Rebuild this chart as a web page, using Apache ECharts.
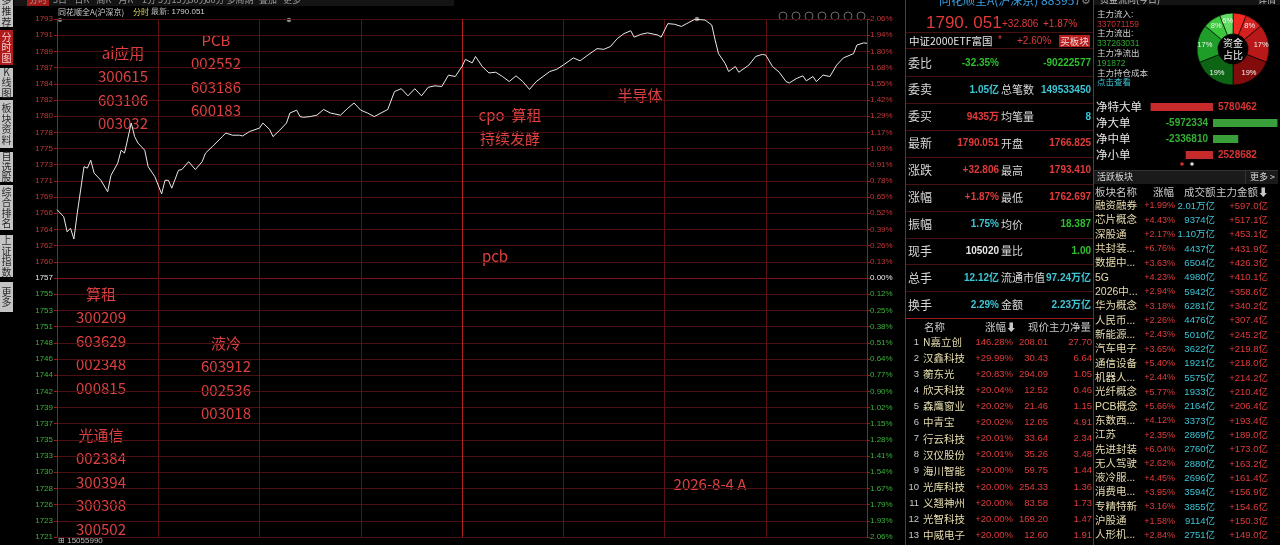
<!DOCTYPE html>
<html>
<head>
<meta charset="UTF-8">
<title>同花顺全A 分时</title>
<script src="https://cdn.jsdelivr.net/npm/echarts@6.0.0/dist/echarts.min.js"></script>
<style>
  html, body { margin: 0; padding: 0; background: #000; }
  #main { width: 1280px; height: 545px; }
</style>
</head>
<body>
<div id="main"></div>
<script type="text/javascript">

// ---- 分时数据 ----
var PRE_CLOSE = 1757.245;
var AXIS_TOP = 1793.44;
var STEPS = 16;

var minutes = [0, 2, 3, 4, 5, 6, 8, 9, 10, 11, 13, 15, 16, 18, 19, 20, 22, 23, 24, 26, 27, 29, 31, 32, 33, 34, 36, 37, 39, 41,
  43, 44, 46, 49, 50, 52, 54, 55, 57, 60, 61, 63, 64, 66, 68, 69, 71, 72, 73, 75, 77, 79, 81, 84, 86, 88, 90, 92, 94, 96,
  98, 100, 102, 104, 106, 108, 110, 112, 114, 116, 118, 120, 121, 123, 124, 126, 128, 130, 132, 134, 136, 138, 140, 142, 144, 146,
  148, 150, 153, 155, 157, 160, 162, 164, 166, 168, 170, 171, 173, 175, 178, 179, 181, 183, 185, 187, 189, 192, 194, 195, 196,
  198, 199, 201, 202, 205, 207, 209, 210, 212, 214, 216, 217, 219, 221, 222, 224, 225, 227, 229, 231, 233, 236, 237, 239, 240];
var prices = [1766.8, 1765.8, 1763.7, 1764.2, 1762.7, 1766.3, 1772.8, 1772.6, 1773.7, 1771.9, 1770.9, 1769.3, 1771.6, 1773.3, 1775.1, 1774.7, 1778.9, 1777.0, 1776.1, 1775.1, 1772.8, 1771.4, 1769.0, 1770.9, 1770.9, 1769.8, 1772.3, 1772.4, 1773.5, 1772.4,
  1773.5, 1774.7, 1775.6, 1777.0, 1777.5, 1777.2, 1777.2, 1777.1, 1777.7, 1778.2, 1778.9, 1778.0, 1777.0, 1777.9, 1778.9, 1780.3, 1780.7, 1779.8, 1779.7, 1779.8, 1780.0, 1780.8, 1780.3, 1780.0, 1780.9, 1781.7, 1780.7, 1780.3, 1779.8, 1780.3,
  1780.8, 1783.3, 1783.7, 1782.7, 1783.7, 1782.7, 1783.9, 1784.1, 1784.0, 1785.6, 1785.4, 1786.8, 1787.8, 1787.3, 1788.2, 1786.8, 1785.9, 1786.0, 1785.4, 1784.7, 1785.5, 1784.7, 1783.6, 1784.7, 1785.4, 1786.1,
  1786.4, 1787.0, 1788.0, 1787.6, 1788.3, 1789.3, 1789.2, 1789.6, 1790.7, 1791.4, 1791.8, 1790.9, 1791.3, 1791.5, 1791.2, 1790.9, 1792.8, 1792.7, 1792.4, 1792.9, 1793.4, 1793.3, 1792.6, 1790.5, 1788.6,
  1787.2, 1786.1, 1786.8, 1786.0, 1787.0, 1788.2, 1788.5, 1788.4, 1786.8, 1786.0, 1784.7, 1784.5, 1785.1, 1785.5, 1784.8, 1785.4, 1784.7, 1785.6, 1785.4, 1787.0, 1788.0, 1788.6, 1789.8, 1790.1, 1790.05];

// 纵轴刻度 (从上到下)
var priceTicks = ['1793', '1791', '1789', '1787', '1784', '1782', '1780', '1778', '1775', '1773', '1771', '1769', '1766', '1764', '1762', '1760',
  '1757', '1755', '1753', '1751', '1748', '1746', '1744', '1742', '1739', '1737', '1735', '1733', '1730', '1728', '1726', '1723', '1721'];
var pctTicks = ['2.06%', '1.94%', '1.80%', '1.68%', '1.55%', '1.42%', '1.29%', '1.17%', '1.03%', '0.91%', '0.78%', '0.65%', '0.52%', '0.39%', '0.26%', '0.13%',
  '0.00%', '0.12%', '0.25%', '0.38%', '0.51%', '0.64%', '0.77%', '0.90%', '1.02%', '1.15%', '1.28%', '1.41%', '1.54%', '1.67%', '1.79%', '1.93%', '2.06%'];

// 资金占比 (顺时针, 从12点开始)
var shareNames = ['特大单流入', '大单流入', '中单流入', '小单流入', '小单流出', '中单流出', '大单流出', '特大单流出'];
var shareValues = [6, 8, 17, 19, 19, 17, 8, 6];

// 净额
var flowNames = ['净特大单', '净大单', '净中单', '净小单'];
var flowValues = [5780462, -5972334, -2336810, 2528682];

// 盘口
var quoteKeys1 = ['委比', '委卖', '委买', '最新', '涨跌', '涨幅', '振幅', '现手', '总手', '换手'];
var quoteVals1 = ['-32.35%', '1.05亿', '9435万', '1790.051', '+32.806', '+1.87%', '1.75%', '105020', '12.12亿', '2.29%'];
var quoteKeys2 = ['', '总笔数', '均笔量', '开盘', '最高', '最低', '均价', '量比', '流通市值', '金额'];
var quoteVals2 = ['-90222577', '149533450', '8', '1766.825', '1793.410', '1762.697', '18.387', '1.00', '97.24万亿', '2.23万亿'];

// 涨幅榜
var stockNames = ['N嘉立创', '汉鑫科技', '蘅东光', '欣天科技', '森鹰窗业', '中青宝', '行云科技', '汉仪股份', '海川智能', '光库科技', '义翘神州', '光智科技', '中威电子'];
var stockChg = ['146.28%', '+29.99%', '+20.83%', '+20.04%', '+20.02%', '+20.02%', '+20.01%', '+20.01%', '+20.00%', '+20.00%', '+20.00%', '+20.00%', '+20.00%'];
var stockPrice = ['208.01', '30.43', '294.09', '12.52', '21.46', '12.05', '33.64', '35.26', '59.75', '254.33', '83.58', '169.20', '12.60'];
var stockNet = ['27.70', '6.64', '1.05', '0.46', '1.15', '4.91', '2.34', '3.48', '1.44', '1.36', '1.73', '1.47', '1.91'];

// 活跃板块
var sectorNames = ['融资融券', '芯片概念', '深股通', '共封装...', '数据中...', '5G', '2026中...', '华为概念', '人民币...', '新能源...', '汽车电子', '通信设备',
  '机器人...', '光纤概念', 'PCB概念', '东数西...', '江苏', '先进封装', '无人驾驶', '液冷服...', '消费电...', '专精特新', '沪股通', '人形机...'];
var sectorChg = ['+1.99%', '+4.43%', '+2.17%', '+6.76%', '+3.63%', '+4.23%', '+2.94%', '+3.18%', '+2.26%', '+2.43%', '+3.65%', '+5.40%',
  '+2.44%', '+5.77%', '+5.66%', '+4.12%', '+2.35%', '+6.04%', '+2.62%', '+4.45%', '+3.95%', '+3.16%', '+1.58%', '+2.84%'];
var sectorAmount = ['2.01万亿', '9374亿', '1.10万亿', '4437亿', '6504亿', '4980亿', '5942亿', '6281亿', '4476亿', '5010亿', '3622亿', '1921亿',
  '5575亿', '1933亿', '2164亿', '3373亿', '2869亿', '2760亿', '2880亿', '2696亿', '3594亿', '3855亿', '9114亿', '2751亿'];
var sectorMain = ['+597.0亿', '+517.1亿', '+453.1亿', '+431.9亿', '+426.3亿', '+410.1亿', '+358.6亿', '+340.2亿', '+307.4亿', '+245.2亿', '+219.8亿', '+218.0亿',
  '+214.2亿', '+210.4亿', '+206.4亿', '+193.4亿', '+189.0亿', '+173.0亿', '+163.2亿', '+161.4亿', '+156.9亿', '+154.6亿', '+150.3亿', '+149.0亿'];

// ---- 样式 ----
var RED = '#e23b3b', GREEN = '#2fc02f', CYAN = '#3cc6d6', WHITE = '#e6e6e6', CREAM = '#e6dcae', NOTE = '#dc4040';
var GRID_RED = '#4c1010', BORDER = '#9a1c1c';
var CJK = '"Noto Sans CJK SC", sans-serif';
var NUM = '"Liberation Sans", Arial, sans-serif';

var STEP = (AXIS_TOP - PRE_CLOSE) / STEPS;
var lineData = minutes.map(function (m, i) { return [m, (prices[i] - PRE_CLOSE) / STEP]; });

function tickIndex(v) { return STEPS - Math.round(Number(v)); }
function tickColor(v) { var k = Math.round(Number(v)); return k > 0 ? '#c23838' : (k < 0 ? '#3bb33b' : '#e8e8e8'); }

var hSplit = [], vSplit = [];
for (var i = 0; i <= STEPS * 2; i++) hSplit.push(i === STEPS ? '#7a1616' : GRID_RED);
for (var j = 0; j <= 8; j++) vSplit.push(j === 4 ? '#b01e1e' : '#5a1212');

// ---- graphic ----
var g = [];
function T(x, y, text, fill, size, align, family, weight, extra) {
  var el = { type: 'text', x: x, y: y, silent: true,
    style: { text: text, fill: fill, fontSize: size, fontFamily: family || CJK, fontWeight: weight || 'normal',
      align: align || 'left', verticalAlign: 'middle' } };
  if (extra) for (var k in extra) el.style[k] = extra[k];
  g.push(el);
}
function L(x1, y1, x2, y2, color) {
  g.push({ type: 'line', silent: true, shape: { x1: x1, y1: y1, x2: x2, y2: y2 }, style: { stroke: color, lineWidth: 1 } });
}
function R(x, y, w, h, fill) {
  g.push({ type: 'rect', silent: true, shape: { x: x, y: y, width: w, height: h }, style: { fill: fill } });
}

// 左侧竖排标签
var sideTabs = ['推荐', '分时图', 'K线图', '板块资料', '自选股', '综合排名', '上证指数', '更多'];
var sideSpans = [[0, 27], [30, 65], [68, 97], [100, 148], [152, 182], [185, 230], [235, 277], [282, 312]];
sideTabs.forEach(function (t, i) {
  var on = i === 1;
  R(0, sideSpans[i][0], 13, sideSpans[i][1] - sideSpans[i][0], on ? '#b01a1a' : '#c4c4c4');
  T(6.5, (sideSpans[i][0] + sideSpans[i][1]) / 2 + (i === 0 ? 3 : 0), t.split('').join('\n'), on ? '#f4d0d0' : '#2a2a2a', 10, 'center', CJK, 'normal', { lineHeight: 10.5 });
});
T(6.5, 0, '多', '#2a2a2a', 10, 'center');

// 顶部页签(被裁切)
R(14, 0, 440, 6, '#141414');
R(27, 0, 22, 6, '#a01818');
[['分时', 38], ['5日', 60], ['日K', 82], ['周K', 104], ['月K', 126], ['1分', 149], ['5分', 165], ['15分', 181], ['30分', 198], ['60分', 215], ['多周期', 240], ['叠加', 268], ['更多', 292]].forEach(function (t) {
  T(t[1], 0, t[0], '#9a9a9a', 9, 'center');
});
T(58, 12, '同花顺全A(沪深京)', '#cfcfcf', 8, 'left');
T(133, 12, '分时', '#d8d860', 8, 'left');
T(151, 12, '最新: 1790.051', '#cfcfcf', 8, 'left', NUM);

// 图表右上角图标
[783, 796, 809, 822, 835, 848, 861].forEach(function (x) {
  g.push({ type: 'circle', silent: true, shape: { cx: x, cy: 16, r: 4 }, style: { fill: 'none', stroke: '#6a6a6a', lineWidth: 1 } });
});
g.push({ type: 'circle', silent: true, shape: { cx: 60, cy: 20, r: 2 }, style: { fill: '#888' } });
g.push({ type: 'circle', silent: true, shape: { cx: 289, cy: 20, r: 2.2 }, style: { fill: '#888' } });
g.push({ type: 'circle', silent: true, shape: { cx: 697, cy: 19, r: 2.2 }, style: { fill: '#888' } });
T(58, 541, '⊞ 15055990', '#bdbdbd', 8, 'left', NUM);

// 手写标注
var notes = [
  [123, 53, ['ai应用', '300615', '603106', '003032']],
  [216, 40, ['PCB', '002552', '603186', '600183']],
  [510, 115, ['cpo  算租', '持续发酵']],
  [640, 95, ['半导体']],
  [495, 256, ['pcb']],
  [101, 294, ['算租', '300209', '603629', '002348', '000815']],
  [226, 343, ['液冷', '603912', '002536', '003018']],
  [101, 435, ['光通信', '002384', '300394', '300308', '300502']],
  [710, 484, ['2026-8-4 A']]
];
notes.forEach(function (n) {
  n[2].forEach(function (s, k) { T(n[0], n[1] + k * 23.5, s, NOTE, 15, 'center', '"Noto Sans CJK SC", "Noto Sans", sans-serif'); });
});

// 右侧面板框线
L(905.5, 0, 905.5, 545, BORDER);
L(1093.5, 0, 1093.5, 545, BORDER);
[32, 48, 76, 103, 130, 157, 184, 211, 238, 264, 291].forEach(function (y) { L(906, y + 0.5, 1093, y + 0.5, '#4a1010'); });
L(906, 318.5, 1093, 318.5, BORDER);

T(1010, 0, '同花顺全A(沪深京) 883957', '#3a9ee0', 12, 'center');
T(1086, 0, '⚙', '#888', 11, 'center');
T(926, 23, '1790. 051', RED, 17, 'left', NUM);
T(1002, 24, '+32.806', RED, 10, 'left', NUM);
T(1043, 24, '+1.87%', RED, 10, 'left', NUM);
T(909, 41, '中证2000ETF富国', WHITE, 10.5, 'left');
T(998, 40, '*', RED, 10, 'left', NUM);
T(1017, 41, '+2.60%', RED, 10, 'left', NUM);
R(1059, 35, 31, 12, '#b81c1c');
T(1074.5, 41, '买板块', '#f0d8d8', 9.5, 'center');

var qc1 = [GREEN, CYAN, RED, RED, RED, RED, CYAN, WHITE, CYAN, CYAN];
var qc2 = [GREEN, CYAN, CYAN, RED, RED, RED, GREEN, GREEN, CYAN, CYAN];
quoteKeys1.forEach(function (k, i) {
  var y = 63 + i * 26.9;
  T(908, y, k, '#d8d8d8', 12, 'left');
  T(999, y, quoteVals1[i], qc1[i], 10, 'right', NUM + ', ' + CJK, 'bold');
  if (quoteKeys2[i]) T(1001, y, quoteKeys2[i], '#d8d8d8', 11, 'left');
  T(1091, y, quoteVals2[i], qc2[i], 10, 'right', NUM + ', ' + CJK, 'bold');
});

// 涨幅榜
T(924, 327, '名称', '#c8c8c8', 10.5, 'left');
T(985, 327, '涨幅⬇', '#c8c8c8', 10.5, 'left');
T(1028, 327, '现价主力净量', '#c8c8c8', 10.5, 'left');
stockNames.forEach(function (s, i) {
  var y = 342 + i * 16.1;
  T(919, y, String(i + 1), '#c8c8c8', 9.5, 'right', NUM);
  T(923, y, s, CREAM, 10.5, 'left');
  T(1013, y, stockChg[i], RED, 9.5, 'right', NUM);
  T(1048, y, stockPrice[i], RED, 9.5, 'right', NUM);
  T(1092, y, stockNet[i], RED, 9.5, 'right', NUM);
});

// 资金面板
R(1094, 0, 186, 5, '#141414');
T(1100, 0, '资金流向(今日)', '#bbbbbb', 9, 'left');
T(1258, 0, '详情', '#bbbbbb', 9, 'left');
[['主力流入:', '#d0d0d0', 15], ['337071159', '#c83030', 25], ['主力流出:', '#d0d0d0', 34], ['337263031', '#30a830', 44],
 ['主力净流出', '#d0d0d0', 54], ['191872', '#30a830', 64], ['主力持仓成本', '#d0d0d0', 74], ['点击查看', CYAN, 83]].forEach(function (r) {
  T(1097, r[2], r[0], r[1], 8.5, 'left', NUM + ', ' + CJK);
});
T(1233, 49, '资金\n占比', '#f0f0f0', 10, 'center', CJK, 'normal', { lineHeight: 12 });
g.push({ type: 'circle', silent: true, shape: { cx: 1182, cy: 164, r: 1.8 }, style: { fill: '#d03030' } });
g.push({ type: 'circle', silent: true, shape: { cx: 1192, cy: 164, r: 1.8 }, style: { fill: '#d8d8d8' } });

// 活跃板块
R(1094, 170, 184, 14, '#1a1a1a');
L(1094, 170.5, 1278, 170.5, '#333');
T(1097, 177, '活跃板块', '#dddddd', 9, 'left');
L(1245.5, 171, 1245.5, 184, '#333');
T(1250, 177, '更多 >', '#dddddd', 9, 'left');
T(1095, 192, '板块名称', '#c8c8c8', 10.5, 'left');
T(1153, 192, '涨幅', '#c8c8c8', 10.5, 'left');
T(1184, 192, '成交额', '#c8c8c8', 10.5, 'left');
T(1216, 192, '主力金额⬇', '#c8c8c8', 10.5, 'left');
sectorNames.forEach(function (s, i) {
  var y = 206 + i * 14.33;
  T(1095, y, s, CREAM, 10.5, 'left', NUM + ', ' + CJK);
  T(1175, y, sectorChg[i], RED, 9, 'right', NUM);
  T(1215, y, sectorAmount[i], CYAN, 9.5, 'right', NUM + ', ' + CJK);
  T(1268, y, sectorMain[i], RED, 9.5, 'right', NUM + ', ' + CJK);
});

// ---- chart ----
var myChart = echarts.init(document.getElementById('main'));

var shareColors = ['#f02a22', '#d62020', '#b81818', '#820c0c', '#0c6414', '#1e9e28', '#3cc83c', '#62dc62'];

var option = {
  backgroundColor: '#000',
  animation: false,
  grid: [
    { left: 57, right: 413, top: 19, bottom: 8 },
    { left: 1148, top: 99, width: 130, height: 64 }
  ],
  xAxis: [
    { type: 'value', gridIndex: 0, min: 0, max: 240, interval: 30,
      axisLine: { show: false }, axisTick: { show: false }, axisLabel: { show: false },
      splitLine: { show: true, lineStyle: { color: vSplit, width: 1 } } },
    { type: 'value', gridIndex: 1, min: -6.02e6, max: 6.02e6, inverse: true, show: false }
  ],
  yAxis: [
    { type: 'value', gridIndex: 0, position: 'left', min: -STEPS, max: STEPS, interval: 1,
      axisLine: { show: true, lineStyle: { color: BORDER } },
      axisTick: { show: true, length: 3, lineStyle: { color: BORDER } },
      axisLabel: { margin: 4, fontSize: 8, fontFamily: NUM, color: tickColor,
        formatter: function (v) { return priceTicks[tickIndex(v)]; } },
      splitLine: { show: true, lineStyle: { color: hSplit, width: 1 } } },
    { type: 'value', gridIndex: 0, position: 'right', min: -STEPS, max: STEPS, interval: 1,
      axisLine: { show: true, lineStyle: { color: BORDER } },
      axisTick: { show: true, length: 3, lineStyle: { color: BORDER } },
      axisLabel: { margin: 3, fontSize: 8, fontFamily: NUM, color: tickColor,
        formatter: function (v) { return pctTicks[tickIndex(v)]; } },
      splitLine: { show: false } },
    { type: 'category', gridIndex: 1, data: flowNames, inverse: true,
      axisLine: { show: false }, axisTick: { show: false }, splitLine: { show: false },
      axisLabel: { align: 'left', margin: 52, color: '#e6e6e6', fontSize: 11.5, fontFamily: CJK } }
  ],
  series: [
    { name: '同花顺全A', type: 'line', xAxisIndex: 0, yAxisIndex: 0, data: lineData,
      showSymbol: false, symbol: 'none', silent: true,
      lineStyle: { color: '#e8e8e8', width: 1 } },
    { name: '资金占比', type: 'pie', center: [1233, 49], radius: [15, 36], startAngle: 90, clockwise: true,
      avoidLabelOverlap: false, silent: true,
      itemStyle: { borderColor: '#000', borderWidth: 0.6 },
      label: { position: 'inside', formatter: '{c}%', fontSize: 7.5, color: '#f2f2f2', fontFamily: NUM },
      labelLine: { show: false },
      data: shareValues.map(function (v, i) { return { name: shareNames[i], value: v, itemStyle: { color: shareColors[i] } }; }) },
    { name: '净额', type: 'bar', xAxisIndex: 1, yAxisIndex: 2, barWidth: 8, silent: true,
      data: flowValues.map(function (v) {
        return { value: v, itemStyle: { color: v > 0 ? '#c62a2a' : '#3a9e3a' },
          label: { show: true, position: v > 0 ? 'right' : 'left', distance: 5, color: v > 0 ? '#d83434' : '#34b034',
            fontSize: 10, fontFamily: NUM, fontWeight: 'bold' } };
      }) }
  ],
  graphic: g
};
myChart.setOption(option);
</script>
</body>
</html>
